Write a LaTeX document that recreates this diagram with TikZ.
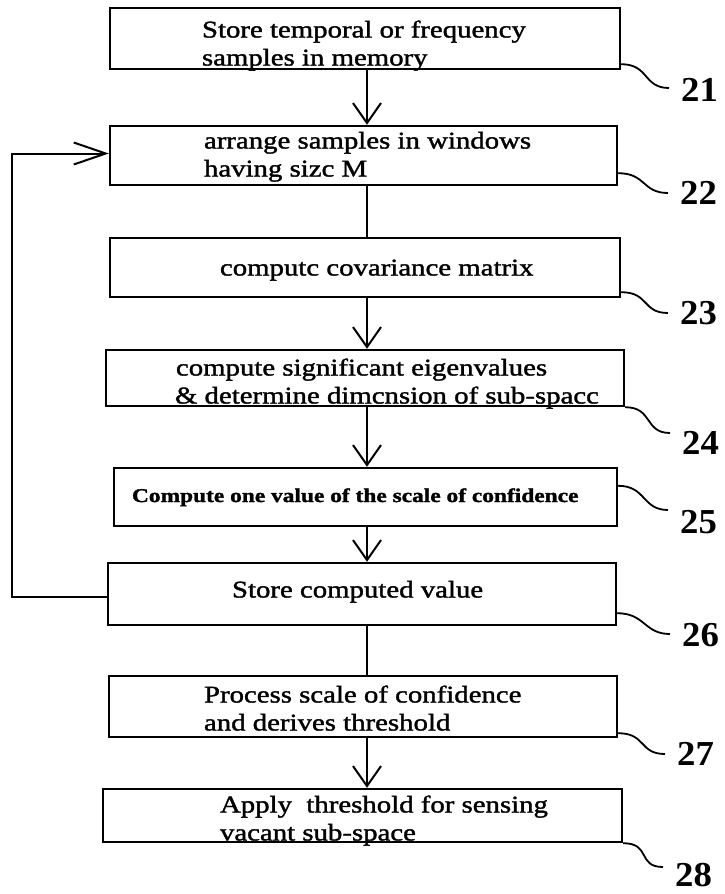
\documentclass[tikz,border=0pt]{standalone}
\usepackage{fontspec}
\setmainfont{Liberation Serif}[FakeStretch=1.2,FakeBold=1.5]
\newfontfamily\numfont{Liberation Serif}[FakeStretch=1.05]
\usetikzlibrary{arrows.meta}
% \bx{box width}{indent}{raise}{lines}
\newcommand\bx[4]{\makebox[#1][l]{\hspace*{#2}\raisebox{#3}[0pt][0pt]{\begin{tabular}[t]{@{}l@{}}#4\end{tabular}}}}
\begin{document}
\begin{tikzpicture}[x=1pt,y=1pt,
  box/.style={draw, line width=2.4pt, inner sep=0pt,
    font=\fontsize{24}{28}\selectfont},
  arr/.style={line width=2pt, -{Straight Barb[length=20pt,width=28pt,line width=2pt]}},
  plain/.style={line width=2pt},
  back/.style={line width=2pt, -{Straight Barb[length=32pt,width=22pt,line width=2pt]}},
  lead/.style={line width=1.8pt},
  num/.style={font=\numfont\fontsize{35}{35}\bfseries\selectfont, anchor=west, inner xsep=12pt, inner ysep=0pt}
]
\useasboundingbox (0,0) rectangle (724,-894);
\coordinate (ax) at (367,0);
% boxes
\node[box, minimum height=61pt] (b1) at (365,-38.5)
  {\bx{510pt}{92pt}{1pt}{Store temporal or frequency\\samples in memory}};
\node[box, minimum height=59pt] (b2) at (363.5,-155.5)
  {\bx{507pt}{94pt}{7pt}{arrange samples in windows\\having sizc M}};
\node[box, minimum height=59pt] (b3) at (365,-267.5)
  {\bx{510pt}{110pt}{-8pt}{computc covariance matrix}};
\node[box, minimum height=56pt] (b4) at (365,-378)
  {\bx{518pt}{70pt}{2.5pt}{compute significant eigenvalues\\\hspace*{-1pt}\& determine dimcnsion of sub-spacc}};
\node[box, minimum height=58pt, font=\fontsize{19.5}{24}\bfseries\selectfont] (b5) at (365.5,-497)
  {\bx{503pt}{18pt}{-5pt}{Compute one value of the scale of confidence}};
\node[box, minimum height=62pt] (b6) at (362,-594)
  {\bx{508pt}{124pt}{-3.5pt}{Store computed value}};
\node[box, minimum height=61pt] (b7) at (363,-706.5)
  {\bx{508pt}{95pt}{4pt}{Process scale of confidence\\and derives threshold}};
\node[box, minimum height=53pt] (b8) at (362.5,-815.5)
  {\bx{519pt}{117pt}{3pt}{Apply\ \ threshold for sensing\\vacant sub-space}};
% reference numerals
\node[num] (l21) at (669,-90) {21};
\node[num] (l22) at (668,-193) {22};
\node[num] (l23) at (668,-313) {23};
\node[num] (l24) at (670,-443) {24};
\node[num] (l25) at (668,-522) {25};
\node[num] (l26) at (670,-635) {26};
\node[num] (l27) at (665,-754) {27};
\node[num] (l28) at (663,-875) {28};
% connectors
\draw[arr] (b1.south -| ax) -- (b2.north -| ax);
\draw[plain] (b2.south -| ax) -- (b3.north -| ax);
\draw[arr] (b3.south -| ax) -- (b4.north -| ax);
\draw[arr] (b4.south -| ax) -- (b5.north -| ax);
\draw[arr] (b5.south -| ax) -- (b6.north -| ax);
\draw[plain] (b6.south -| ax) -- (b7.north -| ax);
\draw[arr] (b7.south -| ax) -- (b8.north -| ax);
\draw[back] ([yshift=-3pt]b6.west) -- ++(-95,0) |- ([yshift=2pt]b2.west);
% leaders
\draw[lead] ([yshift=6pt]b1.south east) .. controls +(28,0) and +(-26,0) .. ([yshift=2pt]l21.west);
\draw[lead] ([yshift=13pt]b2.south east) .. controls +(28,0) and +(-26,0) .. ([yshift=0pt]l22.west);
\draw[lead] ([yshift=6pt]b3.south east) .. controls +(28,0) and +(-26,0) .. ([yshift=0pt]l23.west);
\draw[lead] (b4.south east) .. controls +(28,0) and +(-26,0) .. ([yshift=10pt]l24.west);
\draw[lead] ([yshift=-19pt]b5.north east) .. controls +(28,0) and +(-26,0) .. ([yshift=12pt]l25.west);
\draw[lead] ([yshift=13pt]b6.south east) .. controls +(28,0) and +(-26,0) .. ([yshift=1pt]l26.west);
\draw[lead] ([yshift=5pt]b7.south east) .. controls +(28,0) and +(-26,0) .. ([yshift=0pt]l27.west);
\draw[lead] (b8.south east) .. controls +(28,0) and +(-26,0) .. ([yshift=8pt]l28.west);
\end{tikzpicture}
\end{document}
